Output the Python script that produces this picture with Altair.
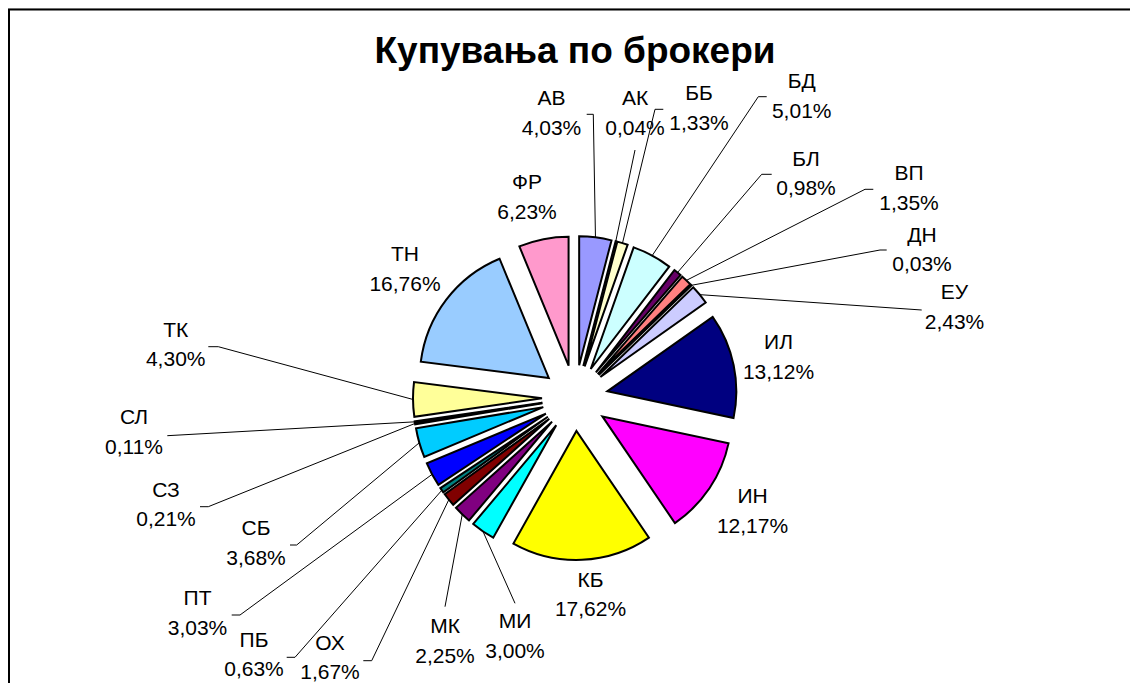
import math
import altair as alt
import pandas as pd

# ---- data ----
names = ["АВ", "АК", "ББ", "БД", "БЛ", "ВП", "ДН", "ЕУ", "ИЛ", "ИН", "КБ",
         "МИ", "МК", "ОХ", "ПБ", "ПТ", "СБ", "СЗ", "СЛ", "ТК", "ТН", "ФР"]
values = [4.03, 0.04, 1.33, 5.01, 0.98, 1.35, 0.03, 2.43, 13.12, 12.17, 17.62,
          3.00, 2.25, 1.67, 0.63, 3.03, 3.68, 0.21, 0.11, 4.30, 16.76, 6.23]
title_text = "Купувања по брокери"

# ---- styles ----
colors = ["#9999FF", "#993366", "#FFFFCC", "#CCFFFF", "#660066", "#FF8080",
          "#0066CC", "#CCCCFF", "#000080", "#FF00FF", "#FFFF00", "#00FFFF",
          "#800080", "#800000", "#008080", "#0000FF", "#00CCFF", "#CCFFFF",
          "#CCFFCC", "#FFFF99", "#99CCFF", "#FF99CC"]

# ---- layout (pixel positions of labels and leader-line stubs) ----
NA = float("nan")
label_x = [543.5, 627, 691, 793.7, 798, 901, 914, 946.5, 770.5, 744.5, 582.5,
           507, 437, 322, 246, 189.5, 248, 158, 126, 167.7, 397, 519]
label_y = [97, 97, 92, 80, 157.7, 172, 233.7, 291.3, 341.3, 495.3, 578.7,
           620.3, 625.3, 641.5, 638.7, 597, 527, 488.7, 416.3, 328.7, 253, 181.3]
stub_x0 = [578.7, 627, 655.3, 758.7, 763.7, 865.3, 878.7, 913.7, NA, NA, NA,
           507, 437, 355.3, 278.7, 223.7, 282, 192, 159.3, 200.3, NA, NA]
stub_x1 = [585.3, 627, 647, 750.3, 753.7, 857, 872, 913.7, NA, NA, NA,
           507, 437, 363.7, 287, 232, 288.7, 200.3, 159.3, 210.3, NA, NA]
stub_y = [106.3, 142, 101.3, 88.7, 166.3, 181.3, 242, 302, NA, NA, NA,
          595.3, 598.7, 652.7, 649.3, 607, 537, 498.7, 427.7, 338.7, NA, NA]

W, H = 1122, 675
CX, CY = 567, 390      # pie centre
R = 129                # slice radius
D = 33                 # explode distance
TOTAL = sum(values)

df = pd.DataFrame({
    "order": list(range(len(names))),
    "name": names,
    "value": values,
    "lx": label_x, "ly": label_y,
    "sx0": stub_x0, "sx1": stub_x1, "sy": stub_y,
})

base = alt.Chart(df).transform_window(
    cum="sum(value)", sort=[alt.SortField("order")], frame=[None, 0]
).transform_calculate(
    start="datum.cum - datum.value",
    mid=f"(datum.cum - datum.value / 2) / {TOTAL} * 2 * PI",
).transform_calculate(
    ex=f"{CX} + {D} * sin(datum.mid)",
    ey=f"{CY} - {D} * cos(datum.mid)",
    px=f"{CX} + {D + R} * sin(datum.mid)",
    py=f"{CY} - {D + R} * cos(datum.mid)",
    label="datum.name + '\\n' + replace(format(datum.value, '.2f'), '.', ',') + '%'",
)

arcs = base.mark_arc(outerRadius=R, stroke="black", strokeWidth=2).encode(
    theta=alt.Theta("start:Q", scale=alt.Scale(domain=[0, TOTAL]), stack=None),
    theta2="cum:Q",
    x=alt.X("ex:Q", scale=None),
    y=alt.Y("ey:Q", scale=None),
    color=alt.Color("name:N", scale=alt.Scale(domain=names, range=colors), legend=None),
    order=alt.Order("order:Q"),
)

lead = base.transform_filter("isValid(datum.sy) && !isNaN(datum.sy)")

stubs = lead.mark_rule(color="black", strokeWidth=1).encode(
    x=alt.X("sx0:Q", scale=None), x2="sx1:Q",
    y=alt.Y("sy:Q", scale=None), y2="sy:Q",
)
leaders = lead.mark_rule(color="black", strokeWidth=1).encode(
    x=alt.X("sx1:Q", scale=None), x2="px:Q",
    y=alt.Y("sy:Q", scale=None), y2="py:Q",
)

labels = base.mark_text(
    font="Liberation Sans", fontSize=21, lineBreak="\n", lineHeight=29.7,
    baseline="alphabetic", align="center", color="black",
).encode(
    x=alt.X("lx:Q", scale=None),
    y=alt.Y("ly:Q", scale=None),
    text="label:N",
)

title = alt.Chart(pd.DataFrame({"t": [title_text]})).mark_text(
    font="Liberation Sans", fontSize=37, fontWeight="bold",
    align="center", baseline="alphabetic", color="black",
).encode(x=alt.value(CX), y=alt.value(55), text="t:N")

frame_top = alt.Chart(pd.DataFrame({"a": [0]})).mark_rule(color="black", strokeWidth=2).encode(
    x=alt.value(0), x2=alt.value(W), y=alt.value(1.5))
frame_left = alt.Chart(pd.DataFrame({"a": [0]})).mark_rule(color="black", strokeWidth=2).encode(
    x=alt.value(1), y=alt.value(1), y2=alt.value(H))

chart = alt.layer(leaders, stubs, arcs, labels, title, frame_top, frame_left).properties(
    width=W, height=H, autosize="none", padding=0,
).configure_view(stroke=None).configure(background="white")

chart.save("out.html", embed_options={"renderer": "svg", "actions": False})
